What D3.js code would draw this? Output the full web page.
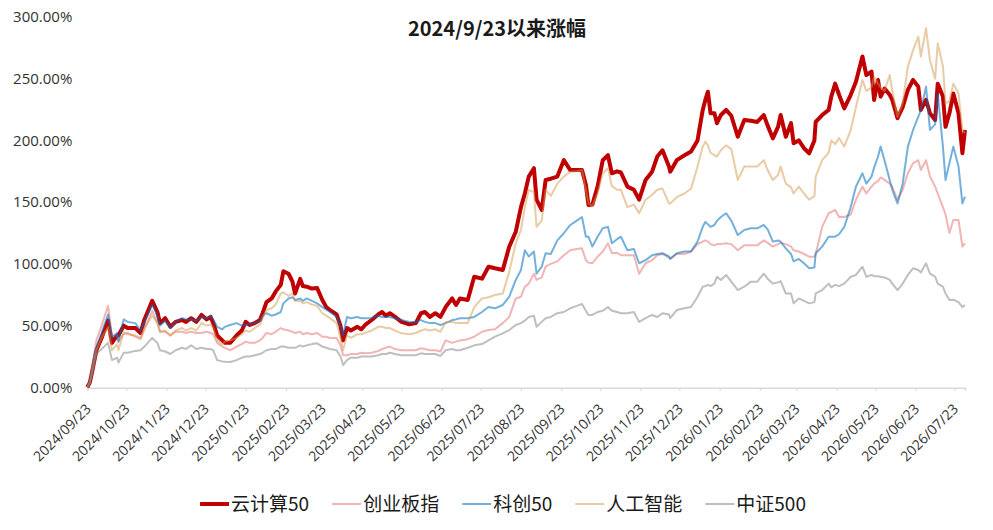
<!DOCTYPE html>
<html>
<head>
<meta charset="utf-8">
<script src="https://cdn.jsdelivr.net/npm/d3@7"></script>
<style>
  body { margin: 0; background: #fff; }
</style>
</head>
<body>
<div id="chart"></div>
<script>
/**
 * DATA (% gain since 2024/9/23)
 * */
const dates = [
  "2024-09-23","2024-09-25","2024-09-27","2024-09-30","2024-10-04","2024-10-09","2024-10-12","2024-10-16","2024-10-17","2024-10-21",
  "2024-10-24","2024-10-30","2024-11-03","2024-11-06","2024-11-12","2024-11-16","2024-11-18","2024-11-22","2024-11-26","2024-11-30",
  "2024-12-05","2024-12-08","2024-12-12","2024-12-16","2024-12-20","2024-12-24","2024-12-27","2024-12-29","2025-01-01","2025-01-05",
  "2025-01-07","2025-01-11","2025-01-16","2025-01-20","2025-01-23","2025-01-26","2025-01-30","2025-02-03","2025-02-05","2025-02-08",
  "2025-02-12","2025-02-15","2025-02-19","2025-02-21","2025-02-25","2025-02-28","2025-03-02","2025-03-06","2025-03-08","2025-03-11",
  "2025-03-15","2025-03-19","2025-03-23","2025-03-26","2025-03-29","2025-04-03","2025-04-06","2025-04-08","2025-04-11","2025-04-14",
  "2025-04-19","2025-04-22","2025-04-25","2025-04-30","2025-05-05","2025-05-08","2025-05-11","2025-05-14","2025-05-18","2025-05-23",
  "2025-05-29","2025-06-03","2025-06-07","2025-06-10","2025-06-14","2025-06-18","2025-06-22","2025-06-26","2025-07-01","2025-07-04",
  "2025-07-07","2025-07-13","2025-07-18","2025-07-24","2025-07-29","2025-08-03","2025-08-09","2025-08-14","2025-08-19","2025-08-23",
  "2025-08-26","2025-08-29","2025-09-02","2025-09-04","2025-09-08","2025-09-11","2025-09-15","2025-09-20","2025-09-25","2025-09-30",
  "2025-10-05","2025-10-09","2025-10-12","2025-10-14","2025-10-17","2025-10-21","2025-10-25","2025-10-29","2025-11-01","2025-11-05",
  "2025-11-08","2025-11-13","2025-11-18","2025-11-22","2025-11-27","2025-12-02","2025-12-06","2025-12-10","2025-12-15","2025-12-16",
  "2025-12-21","2025-12-27","2026-01-01","2026-01-06","2026-01-10","2026-01-12","2026-01-14","2026-01-16","2026-01-19","2026-01-21",
  "2026-01-24","2026-01-28","2026-02-01","2026-02-06","2026-02-11","2026-02-16","2026-02-21","2026-02-26","2026-03-01","2026-03-05",
  "2026-03-09","2026-03-11","2026-03-15","2026-03-19","2026-03-21","2026-03-25","2026-03-29","2026-04-02","2026-04-06","2026-04-07",
  "2026-04-12","2026-04-17","2026-04-19","2026-04-22","2026-04-25","2026-04-29","2026-05-04","2026-05-08","2026-05-13","2026-05-16",
  "2026-05-20","2026-05-22","2026-05-25","2026-05-27","2026-05-30","2026-06-03","2026-06-05","2026-06-09","2026-06-13","2026-06-17",
  "2026-06-21","2026-06-25","2026-06-27","2026-07-01","2026-07-04","2026-07-08","2026-07-10","2026-07-14","2026-07-16","2026-07-19",
  "2026-07-22","2026-07-26","2026-07-29","2026-07-31"
];

// 云计算50
const cloud50 = [
  0,4,14,30,40,54,36,42,42,50, 48,48,44,55,70,61,52,56,49,53,
  54.5,53,56,53,58.6,55,57,52,42,38, 36,36,42,46,53,50.5,52,54.5,60,69,
  72,77.5,83,94,92,85.6,76,87.8,82,81.5, 80,80.4,70.7,65,62.6,59,50,38,48,46,
  49,47,50.5,54.5,59,61,58,60,57,53, 51,52,60,61,57,60,57,65,72,66.7,
  72,70.7,89.6,88,97.7,96.4,95,114,126,146, 157,170.7,177.5,152,143.7,168,169,170.7,184,176,
  176,176,164,147.7,148,162.6,184,188,173.4,175, 174,162.6,160,152,168,174.7,187,192,178.8,174.7,
  184,188,191,200,224.7,232.8,239.5,222,222,214, 220.6,224.7,220,203,216.6,216,215,220.6,212,201.7,
  211,220.6,203,214,197.7,200,193.7,189.6,200,215, 220.6,224.7,235.5,246,237,226,237,247.6,268,253,
  255.8,232.8,249,235.5,242,237,232.8,218,227,241, 249,243.6,224.7,232.8,222,216.6,246,235.5,211,222,
  238,222,189.6,208.5
];

// 创业板指
const chinext = [
  0,5,18,38,50,66,42,42,37,43, 44,41,39,47,62,52,45,45,42,45,
  45,44,45,44,44,45,44,43,36,33, 32,30,33,35,37,36,36,38,40,44,
  43,45,48,47,46,45,44,45,43,44, 43,44,41,41,40,40,34,26,26,27,
  27,28,27.5,28,29.4,31,32,33,31,30, 30,30,31.6,31,30,30,29,38,36,37,
  38,39,41,45,46.4,47,52,57,72,73.4, 81.5,84,92,87,89,97.7,100,102,107,111,
  112,112.6,103,101,100.5,105.8,110,116.7,108.6,109, 107,107,107,92,100.5,103,107,108,105,104.5,
  108,108,110,116,118,119,118,116,115,116, 116,116.7,116,111,115,115,115,119,117,114,
  116,117,116,114,111,110,108,105.8,105.8,108, 130,141,142,143.7,138,138,140,152,162.6,157,
  162.6,165,167,170,168,165,162.6,152,160,173.4, 181.5,184,176,184,171,162.6,157,146,140,125,
  135.6,135.6,114,116.7
];

// 科创50
const star50 = [
  0,4,15,32,44,59,40,44,37,55, 53,52,46,53,67,58,50,54,48,53,
  56,55,55,54,57,56,58,55,49,47, 49,50.5,52,50,50.5,51,52,54,58,60,
  58,59,61,68,72,73,70.7,72,70,72, 70,68,65,63,61,57,50,42,57,56,
  57,56,56,56,58,57,57,57,56,54.5, 53,53,54.5,53,52,52,50.5,52,54.5,55,
  56,56,57,61,65,64,66.7,73.4,87,95, 111,106,110,92,97.7,108.6,108,119,124.8,131.5,
  135,138,122,122,114,122,128.8,130,116.7,120, 122,111,112,100.5,103,107,108,108.6,106,104,
  108.6,110,110,118,130,134,132,130,131.5,135, 138,141,135,123.4,127.5,128.8,128.8,131.5,128,118,
  119,118,112.6,108,102,104,100.5,96.4,97,108.6, 114,122,122,122,124,130,146,162.6,173.4,165,
  170.7,178,187,195,184,168,160,149,165,195, 208.5,219,224.7,243.6,208.5,213,238,195,168,181.5,
  195,178.8,149,154.5
];

// 人工智能
const aiIndex = [
  0,4,14,30,40,49,30,35,30,45, 43,42,40,48,58,52,45,46,42,46,
  48,46,48,46,52,50,51,48,38,35, 37,38,40,43,46,45,48,51,56,62.6,
  64,67,76,77,74,76,70,70,68,69, 67,66,60,58,56,52,40,30,42,40,
  43,43,44,46,49,49,48,48,46,43.7, 43,44,46,47,46,47,45,53,53,52,
  52,52,65,72,73,74.8,76,93.7,116.7,127.5, 146,160,158,130,135,160,155,165,170.7,174.7,
  175,176,160,149,147,157,173.4,177.5,163,160, 160,146,148,141,152,156,160,161,149,149,
  154,157,161,178.8,195,199,196,190,188,187, 192,196,193,168,178.8,178.8,178.8,184,176,168,
  172,178.8,165,162,157,162.6,157,152,155,170.7, 184,190,200,197,202,195,208.5,227,249,240,
  243,251.7,246,243,240,253,240,219,230,260, 273,284,268,291,265,250,278.6,260,230,232,
  246,238,208.5,206
];

// 中证500
const csi500 = [
  0,3,12,27,31,36,22,24,20,28, 28,29.5,30,33,40,36,30,29,27,30,
  32,31,34,31,32,31,31,30,22,21, 20.7,20.5,22,24,25,25,26,27,28,30,
  31,31,33,33,32,32,32,34,33,34, 35,35.6,33,32,31,30,25,18,22,24,
  24,25,25,25,26,27,27,28,27,26, 26,26,27.5,27,27,27,25.4,30,31,30,
  30,32,34,35,38,41,43.7,46.4,50.5,52, 54,57,58,49,53,56,57,60,61,64,
  66,67.5,62,58.6,58.6,61,62,65,62,61, 60,60,61,53,56,58.6,57,60,59,56,
  62.6,64,65,73.4,81.5,82,83,82,84,89.6, 87,91,85.6,78.8,81.5,85.6,85.6,92,88,84,
  85,86,76,76,68,72,70,68,69,76, 78.8,84,81,83,82,84,89.6,91,97.7,89.6,
  91,90,90,89.6,89,87,84,78.8,84,91, 96.4,95,93,100.5,92,89.6,84,81.5,76,70.7,
  71,69,65,66.7
];

const seriesNames = ["云计算50", "创业板指", "科创50", "人工智能", "中证500"];
const yTicks = [0, 50, 100, 150, 200, 250, 300];
const xTickLabels = [
  "2024/09/23","2024/10/23","2024/11/23","2024/12/23","2025/01/23","2025/02/23","2025/03/23","2025/04/23",
  "2025/05/23","2025/06/23","2025/07/23","2025/08/23","2025/09/23","2025/10/23","2025/11/23","2025/12/23",
  "2026/01/23","2026/02/23","2026/03/23","2026/04/23","2026/05/23","2026/06/23","2026/07/23"
];
const title = "2024/9/23以来涨幅";

/**
 * CONSTANTS
 * */
const width = 993,
  height = 530,
  margin = { top: 17, left: 87.3, right: 28, bottom: 142.7 };

const CJK = '"Noto Sans CJK SC", "Open Sans", sans-serif';
const LATIN = '"Open Sans", "Noto Sans", sans-serif';

const parseDay = d3.timeParse("%Y-%m-%d");
const parseTick = d3.timeParse("%Y/%m/%d");
const fmtTick = d3.timeFormat("%Y/%m/%d");

const svg = d3.select("#chart")
  .append("svg")
  .attr("width", width)
  .attr("height", height)
  .style("display", "block");

const x = d3.scaleTime()
  .domain([parseDay("2024-09-23"), parseDay("2026-07-31")])
  .range([margin.left, width - margin.right]);

const y = d3.scaleLinear()
  .domain([0, 300])
  .range([height - margin.bottom, margin.top]);

// y axis, labels only
const yAxis = svg.append("g")
  .attr("transform", `translate(${margin.left},0)`)
  .call(d3.axisLeft(y).tickValues(yTicks).tickSize(0).tickPadding(15)
    .tickFormat(d => d.toFixed(2) + "%"));
yAxis.select(".domain").remove();
yAxis.selectAll("text")
  .attr("font-family", LATIN)
  .attr("font-size", 15)
  .attr("fill", "#333");

// x axis with rotated date labels
const xAxis = svg.append("g")
  .attr("transform", `translate(0,${y(0) + 0.5})`)
  .call(d3.axisBottom(x).tickValues(xTickLabels.map(parseTick)).tickSize(3)
    .tickFormat(fmtTick));
xAxis.select(".domain").attr("stroke", "#d9d9d9").attr("stroke-width", 1.5);
xAxis.selectAll(".tick line").attr("stroke", "#d9d9d9").attr("stroke-width", 1.2);
xAxis.selectAll("text")
  .attr("x", 0).attr("y", 0).attr("dy", 0)
  .attr("text-anchor", "end")
  .attr("transform", "translate(4,22) rotate(-45)")
  .attr("font-family", LATIN)
  .attr("font-size", 14)
  .attr("fill", "#333");

// series, drawn with the main one underneath
const series = [
  { name: seriesNames[0], values: cloud50, color: "#C00000", opacity: 1, width: 4 },
  { name: seriesNames[1], values: chinext, color: "#E46C6C", opacity: 0.5, width: 2 },
  { name: seriesNames[2], values: star50, color: "#0070C0", opacity: 0.55, width: 2 },
  { name: seriesNames[3], values: aiIndex, color: "#D3974B", opacity: 0.5, width: 2 },
  { name: seriesNames[4], values: csi500, color: "#808080", opacity: 0.5, width: 2 }
];

const line = d3.line()
  .x(d => x(d.date))
  .y(d => y(d.value));

svg.append("g")
  .attr("fill", "none")
  .attr("stroke-linejoin", "round")
  .selectAll("path")
  .data(series)
  .join("path")
  .attr("stroke", d => d.color)
  .attr("stroke-opacity", d => d.opacity)
  .attr("stroke-width", d => d.width)
  .attr("d", d => line(d.values.map((v, i) => ({ date: parseDay(dates[i]), value: v }))));

// title
svg.append("text")
  .attr("x", 497)
  .attr("y", 36)
  .attr("text-anchor", "middle")
  .attr("font-family", CJK)
  .attr("font-weight", "bold")
  .attr("font-size", 20)
  .attr("fill", "#1a1a1a")
  .text(title);

// legend, laid out left to right then centred
const legend = svg.append("g");
let cursor = 0;
series.forEach(s => {
  const item = legend.append("g").attr("transform", `translate(${cursor},0)`);
  item.append("line")
    .attr("x1", 0).attr("x2", 29)
    .attr("stroke", s.color)
    .attr("stroke-opacity", s.opacity)
    .attr("stroke-width", s.width);
  const t = item.append("text")
    .attr("x", 31)
    .attr("dy", "0.36em")
    .attr("font-family", CJK)
    .attr("font-size", 19)
    .attr("fill", "#1a1a1a")
    .text(s.name);
  cursor += 31 + t.node().getComputedTextLength() + 23;
});
const legendWidth = cursor - 23;
legend.attr("transform", `translate(${503 - legendWidth / 2},504)`);
</script>
</body>
</html>
